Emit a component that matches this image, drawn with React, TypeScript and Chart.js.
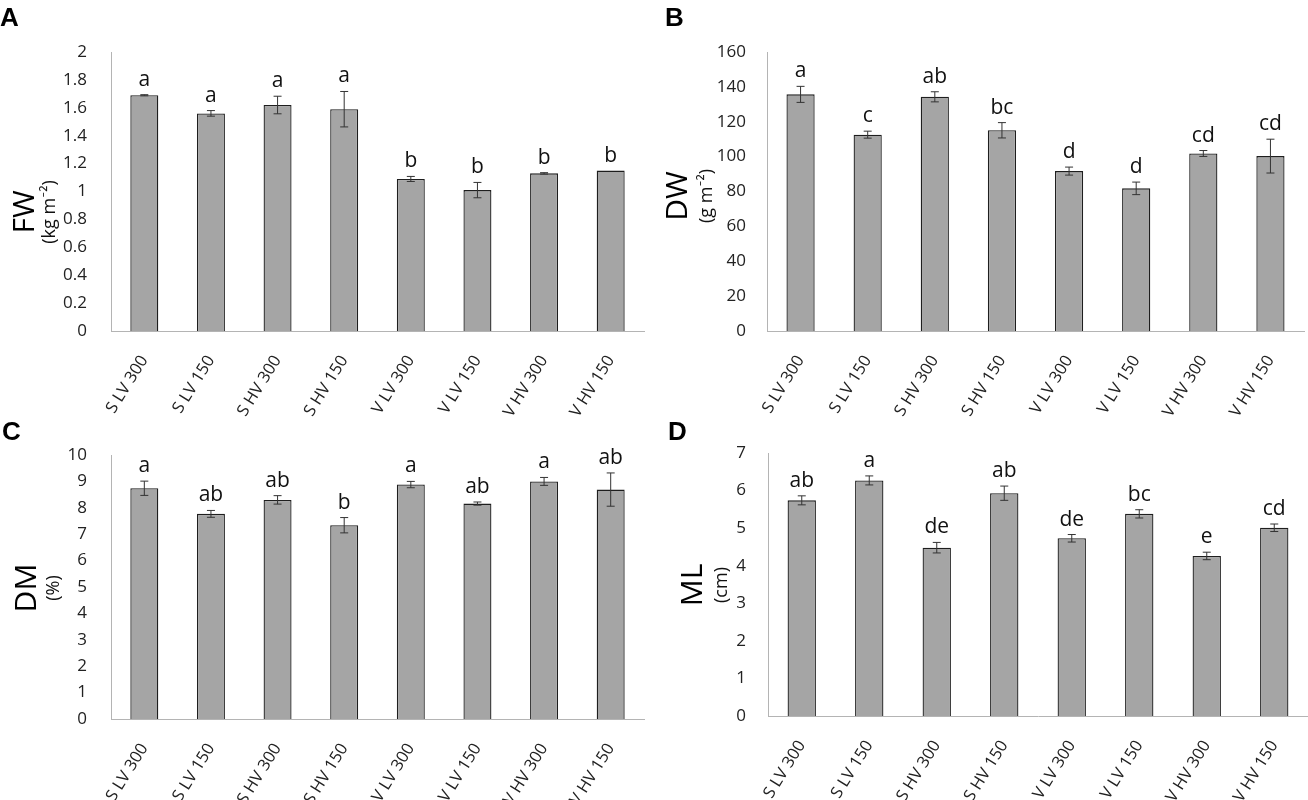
import { useEffect, useRef } from "react";
import { Chart, registerables } from "chart.js";

Chart.register(...registerables);

// treatments on the x axis
const categories = [
  "S LV 300",
  "S LV 150",
  "S HV 300",
  "S HV 150",
  "V LV 300",
  "V LV 150",
  "V HV 300",
  "V HV 150",
];

// A - fresh weight
const fwValues = [1.69, 1.56, 1.62, 1.59, 1.09, 1.01, 1.13, 1.15];
const fwErrors = [0.004, 0.02, 0.063, 0.127, 0.018, 0.055, 0.005, 0];
const fwLetters = ["a", "a", "a", "a", "b", "b", "b", "b"];
const fwTicks = [0, 0.2, 0.4, 0.6, 0.8, 1, 1.2, 1.4, 1.6, 1.8, 2];

// B - dry weight
const dwValues = [135.7, 112.6, 134.3, 115.1, 91.7, 81.8, 101.8, 100.3];
const dwErrors = [4.6, 2.0, 2.9, 4.4, 2.3, 3.6, 1.7, 9.7];
const dwLetters = ["a", "c", "ab", "bc", "d", "d", "cd", "cd"];
const dwTicks = [0, 20, 40, 60, 80, 100, 120, 140, 160];

// C - dry matter
const dmValues = [8.74, 7.77, 8.3, 7.34, 8.88, 8.16, 9.0, 8.69];
const dmErrors = [0.27, 0.13, 0.16, 0.29, 0.12, 0.06, 0.15, 0.63];
const dmLetters = ["a", "ab", "ab", "b", "a", "ab", "a", "ab"];
const dmTicks = [0, 1, 2, 3, 4, 5, 6, 7, 8, 9, 10];

// D - ML
const mlValues = [5.74, 6.27, 4.48, 5.93, 4.73, 5.38, 4.26, 5.01];
const mlErrors = [0.12, 0.12, 0.14, 0.19, 0.1, 0.11, 0.1, 0.1];
const mlLetters = ["ab", "a", "de", "ab", "de", "bc", "e", "cd"];
const mlTicks = [0, 1, 2, 3, 4, 5, 6, 7];

const FONT = "'Open Sans', Lato, sans-serif";

type Box = { left: number; top: number; width: number; height: number };
type Area = { left: number; top: number; right: number; bottom: number };

interface PanelProps {
  tag: string;
  title: string;
  unit: string;
  values: number[];
  errors: number[];
  letters: string[];
  ticks: number[];
  box: Box;
  area: Area;
  tickPad: number;
  tagPos: [number, number];
  titleX: number;
  unitX: number;
  titleY: number;
}

function Panel(p: PanelProps) {
  const canvasRef = useRef<HTMLCanvasElement>(null);

  useEffect(() => {
    if (!canvasRef.current) return;
    const { box, area } = p;

    const overlay = {
      id: "overlay",
      afterDatasetsDraw(chart: any) {
        const ctx = chart.ctx;
        const y = chart.scales.y;
        const meta = chart.getDatasetMeta(0);
        ctx.save();
        p.values.forEach((v, i) => {
          const x = meta.data[i].x;
          const e = p.errors[i];
          const yt = y.getPixelForValue(v + e);
          const yb = y.getPixelForValue(v - e);
          if (e > 0) {
            ctx.strokeStyle = "#333";
            ctx.lineWidth = 1;
            ctx.beginPath();
            ctx.moveTo(x, yt);
            ctx.lineTo(x, yb);
            ctx.moveTo(x - 4, yt);
            ctx.lineTo(x + 4, yt);
            ctx.moveTo(x - 4, yb);
            ctx.lineTo(x + 4, yb);
            ctx.stroke();
          }
          ctx.fillStyle = "#111";
          ctx.font = `21px ${FONT}`;
          ctx.textAlign = "center";
          ctx.textBaseline = "alphabetic";
          ctx.fillText(p.letters[i], x, yt - 9);
        });
        ctx.restore();
      },
      afterDraw(chart: any) {
        const ctx = chart.ctx;
        ctx.save();
        ctx.fillStyle = "#000";
        ctx.font = "bold 26px 'Liberation Sans', Arial, sans-serif";
        ctx.textAlign = "left";
        ctx.textBaseline = "alphabetic";
        ctx.fillText(p.tag, p.tagPos[0] - box.left, p.tagPos[1] - box.top);

        const cy = p.titleY - box.top;
        ctx.textAlign = "center";
        ctx.textBaseline = "middle";
        ctx.translate(p.titleX - box.left, cy);
        ctx.rotate(-Math.PI / 2);
        ctx.font = `30px ${FONT}`;
        ctx.fillStyle = "#000";
        ctx.fillText(p.title, 0, 0);
        ctx.restore();

        ctx.save();
        ctx.translate(p.unitX - box.left, cy);
        ctx.rotate(-Math.PI / 2);
        ctx.font = `18px ${FONT}`;
        ctx.fillStyle = "#111";
        ctx.textAlign = "center";
        ctx.textBaseline = "middle";
        ctx.fillText(p.unit, 0, 0);
        ctx.restore();
      },
    };

    const chart = new Chart(canvasRef.current, {
      type: "bar",
      data: {
        labels: categories,
        datasets: [
          {
            data: p.values,
            backgroundColor: "#a5a5a5",
            borderColor: "#1e1e1e",
            borderWidth: 1.3,
            barPercentage: 0.42,
            categoryPercentage: 1,
          },
        ],
      },
      options: {
        animation: false,
        responsive: true,
        maintainAspectRatio: false,
        layout: {
          padding: {
            left: 0,
            top: area.top - box.top,
            right: box.left + box.width - area.right,
            bottom: 0,
          },
        },
        plugins: { legend: { display: false }, tooltip: { enabled: false } },
        scales: {
          x: {
            grid: { display: false },
            border: { display: true, color: "#b4b4b4", width: 1 },
            ticks: {
              autoSkip: false,
              minRotation: 58,
              maxRotation: 58,
              padding: 13,
              color: "#222",
              font: { family: FONT, size: 16.5 },
            },
            afterFit: (s: any) => {
              s.height = box.top + box.height - area.bottom;
            },
          },
          y: {
            min: p.ticks[0],
            max: p.ticks[p.ticks.length - 1],
            grid: { display: false },
            border: { display: true, color: "#b4b4b4", width: 1 },
            afterBuildTicks: (s: any) => {
              s.ticks = p.ticks.map((v) => ({ value: v }));
            },
            ticks: {
              padding: p.tickPad,
              color: "#222",
              font: { family: FONT, size: 17 },
              callback: (v: any) => String(Math.round(Number(v) * 10) / 10),
            },
            afterFit: (s: any) => {
              s.width = area.left - box.left;
            },
          },
        },
      },
      plugins: [overlay],
    });

    return () => {
      chart.destroy();
    };
  }, [p]);

  return (
    <div
      style={{
        position: "absolute",
        left: p.box.left,
        top: p.box.top,
        width: p.box.width,
        height: p.box.height,
      }}
    >
      <canvas ref={canvasRef} />
    </div>
  );
}

const panels: PanelProps[] = [
  {
    tag: "A",
    title: "FW",
    unit: "(kg m\u207B\u00B2)",
    values: fwValues,
    errors: fwErrors,
    letters: fwLetters,
    ticks: fwTicks,
    box: { left: 0, top: 0, width: 654, height: 420 },
    area: { left: 111, top: 52, right: 644, bottom: 331 },
    tickPad: 16,
    tagPos: [0, 26],
    titleX: 25,
    unitX: 50,
    titleY: 212,
  },
  {
    tag: "B",
    title: "DW",
    unit: "(g m\u207B\u00B2)",
    values: dwValues,
    errors: dwErrors,
    letters: dwLetters,
    ticks: dwTicks,
    box: { left: 654, top: 0, width: 654, height: 420 },
    area: { left: 767, top: 52, right: 1304, bottom: 331 },
    tickPad: 13,
    tagPos: [665, 26],
    titleX: 678,
    unitX: 707,
    titleY: 196,
  },
  {
    tag: "C",
    title: "DM",
    unit: "(%)",
    values: dmValues,
    errors: dmErrors,
    letters: dmLetters,
    ticks: dmTicks,
    box: { left: 0, top: 400, width: 654, height: 400 },
    area: { left: 111, top: 455, right: 644, bottom: 719 },
    tickPad: 16,
    tagPos: [2, 440],
    titleX: 27,
    unitX: 54,
    titleY: 588,
  },
  {
    tag: "D",
    title: "ML",
    unit: "(cm)",
    values: mlValues,
    errors: mlErrors,
    letters: mlLetters,
    ticks: mlTicks,
    box: { left: 654, top: 400, width: 654, height: 400 },
    area: { left: 768, top: 453, right: 1308, bottom: 716 },
    tickPad: 14,
    tagPos: [668, 440],
    titleX: 693,
    unitX: 722,
    titleY: 585,
  },
];

export default function App() {
  return (
    <div
      style={{
        position: "relative",
        width: 1308,
        height: 800,
        overflow: "hidden",
        background: "#fff",
      }}
    >
      <style>{"body{margin:0}"}</style>
      {panels.map((p) => (
        <Panel key={p.tag} {...p} />
      ))}
    </div>
  );
}
